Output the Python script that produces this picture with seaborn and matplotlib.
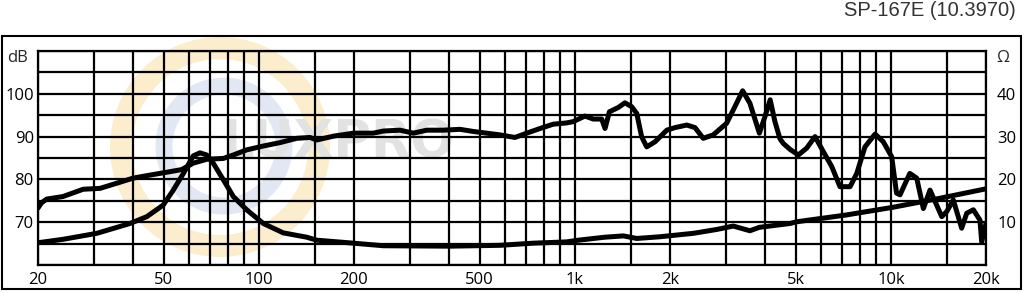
import matplotlib
matplotlib.use("Agg")
import matplotlib.pyplot as plt
from matplotlib.patches import Ellipse, Rectangle
from matplotlib.ticker import FixedLocator, FixedFormatter, NullFormatter
import seaborn as sns
import pandas as pd

# ---------------- data ----------------
title = "SP-167E (10.3970)"

spl_freq = [20, 20.5, 21.3, 24, 27.8, 31.4, 35.5, 40, 45.2, 52.3,
            57, 62, 68.4, 77.2, 83, 91.5, 103.3, 116.7, 131.8, 145.2,
            152.4, 172.1, 199, 230, 247.6, 279.8, 308.2, 339.8, 383.5, 433,
            477, 526, 580, 646, 704, 776, 854, 942, 988, 1076,
            1144, 1216, 1246, 1286, 1372, 1440, 1512, 1570, 1626, 1688,
            1794, 1954, 2074, 2260, 2400, 2548, 2740, 3020, 3170, 3396,
            3580, 3836, 3996, 4150, 4296, 4456, 4566, 4800, 5094, 5414,
            5754, 6110, 6500, 6900, 7430, 7800, 8280, 8912, 9460, 10060,
            10420, 10690, 11480, 12070, 12670, 13300, 14490, 15030, 15760, 16750,
            17380, 18240, 19140, 19380, 20000]
spl_db = [73.3, 74.5, 75.4, 76.0, 77.7, 77.9, 79.1, 80.3, 81.0, 81.8,
          82.3, 83.8, 84.7, 84.9, 85.7, 86.9, 87.8, 88.6, 89.6, 89.8,
          89.2, 90.1, 90.8, 90.8, 91.3, 91.5, 90.8, 91.5, 91.5, 91.7,
          91.2, 90.8, 90.4, 89.8, 90.8, 91.9, 92.9, 93.2, 93.5, 94.8,
          94.1, 94.1, 91.9, 95.8, 96.8, 97.9, 97.0, 95.4, 90.0, 87.6,
          88.8, 91.5, 92.1, 92.7, 92.1, 89.6, 90.4, 93.1, 96.2, 100.7,
          97.8, 90.8, 94.7, 98.6, 93.5, 89.5, 88.4, 87.0, 85.7, 87.3,
          90.0, 86.5, 83.0, 78.3, 78.3, 81.4, 87.6, 90.6, 88.8, 85.3,
          76.8, 76.4, 81.4, 80.3, 73.2, 77.5, 71.3, 72.5, 75.2, 68.6,
          72.1, 72.9, 70.5, 65.4, 69.7]

imp_freq = [20, 24, 30.7, 39.1, 44.2, 49.8, 53.6, 57.7, 62, 65.1,
            68.4, 71.7, 77.2, 83, 91.5, 103.3, 119.5, 141.6, 152.4, 199,
            247.6, 402.7, 580, 738, 942, 1026, 1246, 1423, 1570, 1860,
            2370, 2811, 3170, 3580, 3836, 4798, 5035, 7245, 10180, 14300,
            20000]
imp_ohm = [5.2, 6.0, 7.4, 9.7, 11.3, 14.0, 17.5, 21.4, 25.5, 26.2,
           25.7, 23.8, 19.9, 16.0, 12.9, 9.7, 7.5, 6.5, 5.8, 5.1,
           4.5, 4.4, 4.6, 5.1, 5.4, 5.8, 6.5, 6.8, 6.2, 6.6,
           7.4, 8.3, 9.1, 8.0, 8.8, 9.7, 10.1, 11.7, 13.5, 15.6,
           17.8]

x_major = [20, 50, 100, 200, 500, 1000, 2000, 5000, 10000, 20000]
x_labels = ["20", "50", "100", "200", "500", "1k", "2k", "5k", "10k", "20k"]
x_minor = [30, 40, 60, 70, 80, 90, 150, 300, 400, 600, 700, 800, 900,
           1500, 3000, 4000, 6000, 7000, 8000, 9000, 15000]
db_grid = [60, 65, 70, 75, 80, 85, 90, 95, 100, 105, 110]
db_labels = ["", "", "70", "", "80", "", "90", "", "100", "", ""]
ohm_ticks = [10, 20, 30, 40]
ohm_labels = ["10", "20", "30", "40"]

# ---------------- style ----------------
sns.set_style("white")
plt.rcParams["font.family"] = ["Open Sans", "DejaVu Sans"]

W, H = 1024, 293
LBL = 12
fig = plt.figure(figsize=(W / 100, H / 100), dpi=100)
fig.patch.set_facecolor("white")

# watermark (background)
fig.add_artist(Ellipse((220 / W, 1 - 147 / H), 2 * 99 / W, 2 * 99 / H,
                       transform=fig.transFigure, fill=False,
                       ec="#fcedcc", lw=22 * 0.72, zorder=-2))
fig.add_artist(Ellipse((224 / W, 1 - 146 / H), 2 * 60 / W, 2 * 60 / H,
                       transform=fig.transFigure, fill=False,
                       ec="#e1e8f3", lw=17 * 0.72, zorder=-2))
fig.text(338 / W, 1 - 144 / H, "LUXPRO", color="#e2e2e2", fontsize=37,
         fontweight="bold", ha="center", va="center", zorder=-1,
         family=["DejaVu Sans"])

ax = fig.add_axes([38 / W, 28 / H, 948 / W, 214 / H])
ax.set_facecolor("none")

spl_df = pd.DataFrame({"freq": spl_freq, "db": spl_db})
sns.lineplot(data=spl_df, x="freq", y="db", ax=ax, color="black",
             lw=3.6, solid_capstyle="round", solid_joinstyle="round",
             zorder=5)

ax.set_xscale("log")

ax2 = ax.twinx()
ax2.set_facecolor("none")
imp_df = pd.DataFrame({"freq": imp_freq, "ohm": imp_ohm})
sns.lineplot(data=imp_df, x="freq", y="ohm", ax=ax2, color="black",
             lw=3.6, solid_capstyle="round", solid_joinstyle="round",
             zorder=5)
ax2.set_xscale("log")
ax2.set_ylim(0, 50)
ax2.yaxis.set_major_locator(FixedLocator(ohm_ticks))
ax2.yaxis.set_major_formatter(FixedFormatter(ohm_labels))
ax2.tick_params(axis="y", length=0, labelsize=LBL, pad=8, colors="black")
ax2.set_ylabel("")
ax2.grid(False)
for s in ax2.spines.values():
    s.set_visible(False)

# x axis setup after twinx so the log scale does not reset it
ax.set_xlim(20, 20000)
ax.set_ylim(60, 110)
ax.xaxis.set_major_locator(FixedLocator(x_major))
ax.xaxis.set_major_formatter(FixedFormatter(x_labels))
ax.xaxis.set_minor_locator(FixedLocator(x_minor))
ax.xaxis.set_minor_formatter(NullFormatter())
ax.yaxis.set_major_locator(FixedLocator(db_grid))
ax.yaxis.set_major_formatter(FixedFormatter(db_labels))

ax.grid(True, which="both", axis="x", color="black", lw=1.6, zorder=1)
ax.grid(True, which="major", axis="y", color="black", lw=1.6, zorder=1)
ax.set_axisbelow(True)
ax.tick_params(axis="both", which="both", length=0, labelsize=LBL,
               colors="black")
ax.tick_params(axis="x", pad=5)
ax.tick_params(axis="y", pad=3)
ax.set_xlabel("")
ax.set_ylabel("")
for s in ax.spines.values():
    s.set_visible(True)
    s.set_color("black")
    s.set_linewidth(1.6)

# unit labels
fig.text(18 / W, 1 - 58 / H, "dB", fontsize=LBL, ha="center", va="center")
fig.text(1003 / W, 1 - 58 / H, "Ω", fontsize=LBL, ha="center", va="center")

# title
fig.text(1016 / W, 1 - 11 / H, title, fontsize=14.5, ha="right",
         va="center", color="#333333", family=["Liberation Sans", "DejaVu Sans"])

# outer frame
fig.add_artist(Rectangle((1.5 / W, 4 / H), 1019.5 / W, 253 / H,
                         transform=fig.transFigure, fill=False,
                         ec="black", lw=1.5))

fig.savefig("out.png", dpi=100, facecolor="white")
